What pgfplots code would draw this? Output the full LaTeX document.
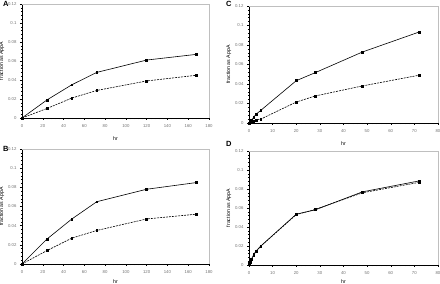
\documentclass[border=0pt]{standalone}
\usepackage{pgfplots}
\pgfplotsset{compat=1.18}
\usepackage{fontspec}
\setmainfont{Liberation Sans}
\pgfplotsset{
  panel/.style={
    scale only axis,
    anchor=origin,
    ymin=0, ymax=0.12,
    ytick={0,0.02,0.04,0.06,0.08,0.1,0.12},
    yticklabels={0,0.02,0.04,0.06,0.08,0.1,0.12},
    axis x line*=bottom, axis y line*=left,
    axis line style={black, line width=0.8pt},
    tick style={black, line width=0.4pt},
    major tick length=2pt,
    minor tick num=4, minor tick length=1.2pt,
    tick align=outside,
    ticklabel style={font=\fontsize{4.3}{5}\selectfont, text=black!55},
    xticklabel style={yshift=-1pt},
    /pgf/number format/assume math mode=true,
    scaled y ticks=false,
    xlabel={hr}, ylabel={fraction as AppA},
    label style={font=\fontsize{5.2}{6}\selectfont},
    xlabel style={yshift=-2pt},
    ylabel style={yshift=-3pt},
    clip=false,
  },
  s/.style={black, line width=0.6pt, mark=square*, mark size=0.9pt, mark options={solid}},
  d/.style={black, line width=0.6pt, dashed, dash pattern=on 2pt off 1pt, mark=square*, mark size=0.9pt, mark options={solid}},
}
\newcommand{\frameit}{\draw[gray!50, line width=0.5pt] (rel axis cs:0,1) -- (rel axis cs:1,1) -- (rel axis cs:1,0);}
\begin{document}
\begin{tikzpicture}
\useasboundingbox (0pt,0pt) rectangle (440pt,284pt);
% A
\begin{axis}[panel, at={(22pt,166pt)}, width=187pt, height=114pt,
  xmin=0, xmax=180, xtick={0,20,...,180}]
\frameit
\addplot[s] coordinates {(0,0) (24,0.019) (48,0.035) (72,0.048) (120,0.061) (168,0.067)};
\addplot[d] coordinates {(0,0) (24,0.010) (48,0.021) (72,0.029) (120,0.039) (168,0.045)};
\node[font=\bfseries\fontsize{7.5}{8}\selectfont, anchor=north west] at (rel axis cs:-0.12,1.05) {A};
\end{axis}
% B
\begin{axis}[panel, at={(22pt,20pt)}, width=187pt, height=115pt,
  xmin=0, xmax=180, xtick={0,20,...,180}, xlabel style={yshift=3pt}]
\frameit
\addplot[s] coordinates {(0,0) (24,0.026) (48,0.047) (72,0.065) (120,0.078) (168,0.085)};
\addplot[d] coordinates {(0,0) (24,0.014) (48,0.027) (72,0.035) (120,0.047) (168,0.052)};
\node[font=\bfseries\fontsize{7.5}{8}\selectfont, anchor=north west] at (rel axis cs:-0.12,1.05) {B};
\end{axis}
% C
\begin{axis}[panel, at={(249pt,161pt)}, width=189pt, height=117pt,
  xmin=0, xmax=80, xtick={0,10,...,80}]
\frameit
\addplot[s] coordinates {(0,0) (1,0.0025) (2,0.006) (3,0.009) (5,0.013) (20,0.0434) (28,0.0516) (48,0.0728) (72,0.0933)};
\addplot[d] coordinates {(0,0) (1,0.001) (2,0.002) (3,0.003) (5,0.004) (20,0.0215) (28,0.0277) (48,0.038) (72,0.049)};
\node[font=\bfseries\fontsize{7.5}{8}\selectfont, anchor=north west] at (rel axis cs:-0.14,1.07) {C};
\end{axis}
% D
\begin{axis}[panel, at={(249pt,19pt)}, width=189pt, height=114pt,
  xmin=0, xmax=80, xtick={0,10,...,80}, xlabel style={yshift=3.5pt}]
\frameit
\addplot[s] coordinates {(0,0.002) (0.5,0.004) (1,0.006) (2,0.011) (3,0.0147) (5,0.020) (20,0.0535) (28,0.058) (48,0.077) (72,0.0885)};
\addplot[d] coordinates {(0,0.0005) (0.5,0.003) (1,0.0055) (2,0.0105) (3,0.0145) (5,0.0198) (20,0.053) (28,0.0585) (48,0.076) (72,0.087)};
\node[font=\bfseries\fontsize{7.5}{8}\selectfont, anchor=north west] at (rel axis cs:-0.14,1.12) {D};
\end{axis}
\end{tikzpicture}
\end{document}
